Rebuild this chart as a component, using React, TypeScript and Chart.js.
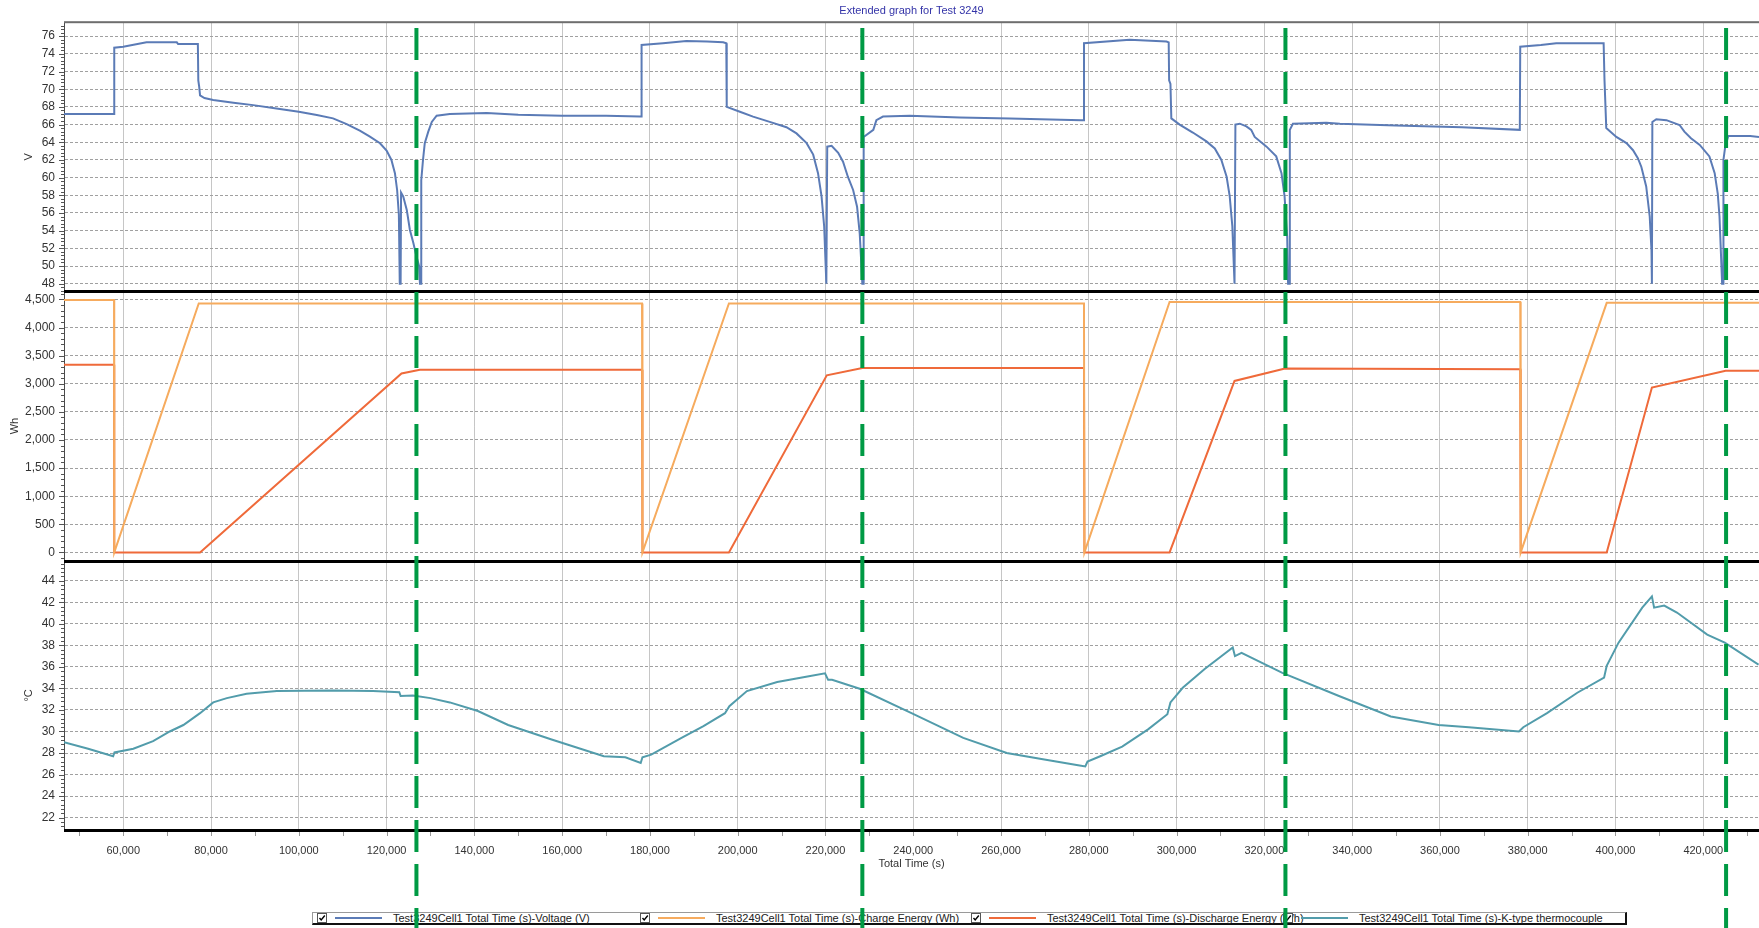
import React, { useEffect, useRef } from 'react';
import { Chart, registerables } from 'chart.js';

Chart.register(...registerables);

const FONT = "'Liberation Sans', Arial, Helvetica, sans-serif";

const chartTitle = 'Extended graph for Test 3249';
const xAxisTitle = 'Total Time (s)';
const voltageAxisTitle = 'V';
const energyAxisTitle = 'Wh';
const tempAxisTitle = '°C';

// Green marker positions (Total Time, s)
const markerTimes = [126800, 228400, 324800, 425200];

// Voltage (V)
const voltageTime = [
  46500, 57900, 57950, 60000, 65300, 72200, 72500, 77000, 77100, 77300,
  77500, 78500, 80500, 85100, 89600, 94900, 100000, 104100, 107800, 110900,
  113900, 116200, 118500, 120000, 121100, 121900, 122400, 122800, 123000, 123200,
  123300, 123800, 124600, 125300, 126100, 126800, 127400, 127600, 127850, 127900,
  128300, 128700, 129500, 130300, 131400, 134400, 142800, 150000, 160000, 170000,
  177700, 178000, 178100, 183000, 188300, 193000, 196700, 197400, 197500, 200500,
  203500, 207300, 211100, 213400, 215700, 217200, 218300, 219100, 219700, 220200,
  220300, 220400, 221400, 222900, 224000, 225100, 226300, 227200, 227800, 228400,
  228600, 228700, 230900, 231600, 233100, 239200, 250600, 262000, 278300, 278800,
  278900, 289300, 297700, 298200, 298300, 298600, 298800, 300700, 303700, 306800,
  308700, 310200, 311400, 312100, 312700, 313200, 313300, 313400, 314400, 315900,
  317000, 317800, 320500, 322700, 323900, 324600, 325200, 325400, 325700, 325800,
  326500, 334100, 337200, 350000, 365000, 378200, 378300, 383000, 386500, 397300,
  397500, 397900, 400200, 402500, 404000, 405100, 405900, 407000, 407800, 408200,
  408300, 408400, 409300, 411600, 414600, 415700, 417200, 419200, 421400, 422600,
  423300, 423700, 424300, 424500, 424600, 425000, 425700, 430700, 432700,
];
const voltageValues = [
  67.2, 67.2, 74.7, 74.8, 75.3, 75.3, 75.1, 75.1, 71.0, 70.3,
  69.3, 69.0, 68.77, 68.47, 68.2, 67.83, 67.45, 67.08, 66.7, 66.06,
  65.31, 64.63, 63.89, 63.05, 62.0, 60.5, 58.6, 55.8, 48, 48,
  58.3, 57.85, 56.35, 54.1, 52.6, 51.1, 50.0, 48, 48, 59.7,
  62.0, 63.9, 65.2, 66.3, 67.0, 67.2, 67.3, 67.1, 67.0, 67.0,
  66.9, 66.9, 75.0, 75.2, 75.45, 75.4, 75.3, 75.2, 68.0, 67.45,
  66.9, 66.3, 65.7, 65.0, 63.9, 62.6, 60.5, 57.9, 54.5, 48,
  48, 63.5, 63.6, 62.8, 61.8, 60.1, 58.6, 56.7, 53.7, 48,
  48, 64.6, 65.4, 66.5, 66.9, 67.0, 66.8, 66.7, 66.5, 66.5,
  75.2, 75.6, 75.4, 75.3, 71.0, 70.6, 66.7, 66.0, 65.1, 64.1,
  63.3, 62.0, 60.1, 57.9, 54.5, 48, 48, 66.0, 66.1, 65.8,
  65.4, 64.6, 63.5, 62.4, 60.5, 57.9, 53.3, 48, 48, 65.4,
  66.1, 66.2, 66.1, 65.9, 65.7, 65.4, 74.8, 75.0, 75.2, 75.2,
  71.0, 65.6, 64.6, 63.9, 63.1, 62.2, 61.2, 59.0, 55.6, 51.8,
  48, 66.3, 66.6, 66.5, 65.95, 65.2, 64.45, 63.7, 62.4, 60.5,
  58.2, 55.6, 48, 48, 62.0, 63.5, 64.7, 64.7, 64.6,
];

// Charge energy (Wh)
const chargeTime = [46500, 57900, 57950, 77200, 178200, 178300, 198000, 278900, 279000, 298400, 378300, 378400, 398000, 432700];
const chargeValues = [4490, 4490, 0, 4430, 4430, 0, 4430, 4430, 0, 4455, 4455, 0, 4440, 4440];

// Discharge energy (Wh)
const dischargeTime = [
  46500, 57900, 57950, 77500, 123400, 127600, 178200, 178300, 198000, 220300, 228400,
  278900, 279000, 298400, 313200, 324700, 378300, 378400, 398000, 408300, 425100, 432700,
];
const dischargeValues = [
  3340, 3340, 0, 0, 3182, 3250, 3250, 0, 0, 3150, 3280,
  3280, 0, 0, 3050, 3270, 3260, 0, 0, 2932, 3230, 3230,
];

// K-type thermocouple (°C)
const tempTime = [
  46500, 52000, 57700, 58000, 62300, 66800, 70600, 73700, 77500, 80500,
  83600, 88100, 95000, 107800, 116900, 122900, 123200, 126000, 130000, 134400,
  140800, 147700, 157600, 169500, 174400, 177900, 178300, 180300, 187200, 192200,
  197100, 198100, 202100, 209000, 215900, 219900, 220600, 221500, 227800, 239600,
  251400, 261300, 269200, 277900, 279200, 279700, 282600, 287600, 293500, 297900,
  298600, 301400, 306400, 312800, 313300, 314800, 324100, 337000, 348800, 359700,
  366600, 378000, 379000, 384400, 391300, 397400, 398000, 400700, 406100, 408300,
  408800, 411100, 414000, 420900, 424900, 432600,
];
const tempValues = [
  29.0, 28.4, 27.7, 28.05, 28.4, 29.1, 30.0, 30.6, 31.7, 32.7,
  33.1, 33.5, 33.75, 33.8, 33.75, 33.65, 33.3, 33.35, 33.1, 32.7,
  31.9, 30.6, 29.25, 27.7, 27.6, 27.07, 27.6, 27.85, 29.4, 30.5,
  31.7, 32.35, 33.75, 34.6, 35.1, 35.4, 34.8, 34.8, 33.97, 31.7,
  29.4, 28.0, 27.44, 26.85, 26.75, 27.2, 27.7, 28.6, 30.2, 31.6,
  32.7, 34.06, 35.8, 37.8, 37.0, 37.3, 35.45, 33.3, 31.4, 30.6,
  30.4, 30.0, 30.4, 31.7, 33.6, 35.0, 36.1, 38.25, 41.5, 42.55,
  41.5, 41.7, 41.05, 39.0, 38.25, 36.2,
];

const seriesNames = [
  'Test3249Cell1 Total Time (s)-Voltage (V)',
  'Test3249Cell1 Total Time (s)-Charge Energy (Wh)',
  'Test3249Cell1 Total Time (s)-Discharge Energy (Wh)',
  'Test3249Cell1 Total Time (s)-K-type thermocouple',
];
const seriesColors = ['#5b7bb6', '#f6ab5e', '#ef6a3a', '#529cab'];

// axis ranges and tick steps
const xRange = { min: 46500, max: 432700, step: 20000 };
const voltageRange = { min: 47.12, max: 77.58, step: 2 };
const energyRange = { min: -148, max: 4642, step: 500 };
const tempRange = { min: 20.85, max: 45.86, step: 2 };

const toPoints = (xs: number[], ys: number[]) => xs.map((x, i) => ({ x, y: ys[i] }));

function stepTicks(r: { min: number; max: number; step: number }) {
  const out: { value: number }[] = [];
  for (let k = Math.ceil(r.min / r.step); k * r.step <= r.max; k++) out.push({ value: k * r.step });
  return out;
}

function panelScale(r: { min: number; max: number; step: number }, title: string, titlePad: number) {
  return {
    type: 'linear',
    position: 'left',
    stack: 'panels',
    stackWeight: 1,
    offset: false,
    min: r.min,
    max: r.max,
    afterBuildTicks: (s: any) => {
      s.ticks = stepTicks(r);
    },
    ticks: {
      autoSkip: false,
      padding: 9,
      color: '#333',
      font: { family: FONT, size: 12 },
    },
    grid: { color: '#a0a0a0', lineWidth: 1, drawTicks: false },
    border: { display: true, color: '#4a4a4a', width: 1, dash: [3, 2] },
    title: {
      display: true,
      text: title,
      color: '#333',
      font: { family: FONT, size: 11 },
      padding: { top: titlePad, bottom: 0 },
    },
    afterFit: (s: any) => {
      s.width = 64;
    },
  };
}

const minorSteps: Record<string, number> = {
  yV: voltageRange.step / 5,
  yE: energyRange.step / 5,
  yT: tempRange.step / 5,
};

const decorPlugin = {
  id: 'decor',
  afterDraw(chart: any) {
    const { ctx, chartArea, scales } = chart;
    const xs = scales.x;
    ctx.save();
    // minor ticks on the y axes
    ctx.strokeStyle = '#555';
    ctx.lineWidth = 1;
    Object.keys(minorSteps).forEach((id) => {
      const s = scales[id];
      const step = minorSteps[id];
      const first = Math.ceil(s.min / step);
      const last = Math.floor(s.max / step);
      for (let k = first; k <= last; k++) {
        const py = Math.round(s.getPixelForValue(k * step)) + 0.5;
        const len = k % 5 === 0 ? 5 : 3;
        ctx.beginPath();
        ctx.moveTo(chartArea.left - len, py);
        ctx.lineTo(chartArea.left, py);
        ctx.stroke();
      }
    });
    // minor ticks on the x axis
    const xStep = xRange.step / 2;
    ctx.strokeStyle = '#999';
    for (let k = Math.ceil(xs.min / xStep); k <= Math.floor(xs.max / xStep); k++) {
      const px = Math.round(xs.getPixelForValue(k * xStep)) + 0.5;
      ctx.beginPath();
      ctx.moveTo(px, chartArea.bottom + 2);
      ctx.lineTo(px, chartArea.bottom + 6);
      ctx.stroke();
    }
    // top border
    ctx.fillStyle = '#6e6e6e';
    ctx.fillRect(chartArea.left, chartArea.top - 1, chartArea.right - chartArea.left, 2);
    // panel separators
    ctx.fillStyle = '#000';
    [scales.yV.bottom, scales.yE.bottom, scales.yT.bottom].forEach((py: number) => {
      ctx.fillRect(chartArea.left, Math.round(py) - 1, chartArea.right - chartArea.left, 3);
    });
    // green dashed markers
    ctx.strokeStyle = '#009a44';
    ctx.lineWidth = 4;
    ctx.setLineDash([32, 12]);
    markerTimes.forEach((t) => {
      const px = xs.getPixelForValue(t);
      ctx.beginPath();
      ctx.moveTo(px, 28);
      ctx.lineTo(px, chart.height);
      ctx.stroke();
    });
    ctx.restore();
  },
};

const legendOffsets = [4, 327, 658, 970];

function Legend() {
  return (
    <div
      style={{
        position: 'absolute',
        left: 312,
        top: 912,
        width: 1312,
        height: 10,
        borderTop: '1px solid #9a9a9a',
        borderLeft: '1px solid #9a9a9a',
        borderRight: '2px solid #111',
        borderBottom: '2px solid #111',
        background: '#fff',
        fontFamily: FONT,
        fontSize: 11,
        color: '#222',
        zIndex: 0,
      }}
    >
      {seriesNames.map((name, i) => (
        <div
          key={name}
          style={{
            position: 'absolute',
            left: legendOffsets[i],
            top: -2,
            height: 14,
            display: 'flex',
            alignItems: 'center',
            whiteSpace: 'nowrap',
          }}
        >
          <span
            style={{
              width: 8,
              height: 8,
              border: '1px solid #555',
              background: '#fff',
              display: 'inline-block',
              position: 'relative',
            }}
          >
            <svg width="8" height="8" viewBox="0 0 8 8" style={{ position: 'absolute', left: 0, top: 0 }}>
              <polyline points="1.5,4 3.2,6 6.8,1.5" fill="none" stroke="#000" strokeWidth="1.4" />
            </svg>
          </span>
          <span
            style={{
              display: 'inline-block',
              width: 47,
              height: 2,
              background: seriesColors[i],
              marginLeft: 8,
              marginRight: 11,
            }}
          />
          <span>{name}</span>
        </div>
      ))}
    </div>
  );
}

export default function App() {
  const canvasRef = useRef<HTMLCanvasElement | null>(null);

  useEffect(() => {
    const canvas = canvasRef.current;
    if (!canvas) return;
    Chart.defaults.font.family = FONT;
    const lineDs = (label: string, xs: number[], ys: number[], color: string, axis: string, width: number) => ({
      label,
      data: toPoints(xs, ys),
      yAxisID: axis,
      xAxisID: 'x',
      borderColor: color,
      backgroundColor: color,
      borderWidth: width,
      pointRadius: 0,
      tension: 0,
      fill: false,
    });
    const chart = new Chart(canvas, {
      type: 'line',
      data: {
        datasets: [
          lineDs(seriesNames[0], voltageTime, voltageValues, seriesColors[0], 'yV', 2),
          lineDs(seriesNames[1], chargeTime, chargeValues, seriesColors[1], 'yE', 2),
          lineDs(seriesNames[2], dischargeTime, dischargeValues, seriesColors[2], 'yE', 2),
          lineDs(seriesNames[3], tempTime, tempValues, seriesColors[3], 'yT', 2),
        ],
      },
      options: {
        responsive: false,
        animation: false,
        layout: { padding: { left: 0, right: 0, top: 0, bottom: 57.6 } },
        plugins: {
          legend: { display: false },
          tooltip: { enabled: false },
          title: {
            display: true,
            text: chartTitle,
            color: '#3434a8',
            fullSize: false,
            font: { family: FONT, size: 11, weight: 'normal' },
            padding: { top: 4, bottom: 5 },
          },
        },
        scales: {
          x: {
            type: 'linear',
            position: 'bottom',
            min: xRange.min,
            max: xRange.max,
            afterBuildTicks: (s: any) => {
              s.ticks = stepTicks(xRange);
            },
            ticks: {
              padding: 14,
              color: '#333',
              maxRotation: 0,
              autoSkip: false,
              font: { family: FONT, size: 11 },
            },
            grid: { color: '#c6c6c6', lineWidth: 1, drawTicks: false },
            border: { display: false },
            title: {
              display: true,
              text: xAxisTitle,
              color: '#333',
              font: { family: FONT, size: 11 },
              padding: { top: -14, bottom: 0 },
            },
          },
          yT: panelScale(tempRange, tempAxisTitle, 22.7),
          yE: panelScale(energyRange, energyAxisTitle, 8.4),
          yV: panelScale(voltageRange, voltageAxisTitle, 22.7),
        } as any,
      },
      plugins: [decorPlugin],
    } as any);
    return () => chart.destroy();
  }, []);

  return (
    <div
      style={{
        position: 'absolute',
        left: 0,
        top: 0,
        width: 1759,
        height: 928,
        background: '#fff',
        overflow: 'hidden',
      }}
    >
      <Legend />
      <canvas
        ref={canvasRef}
        width={1759}
        height={928}
        style={{ position: 'absolute', left: 0, top: 0, zIndex: 1, width: 1759, height: 928 }}
      />
    </div>
  );
}
